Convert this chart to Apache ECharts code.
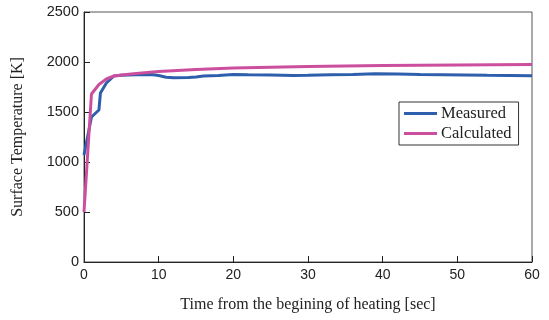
<!DOCTYPE html>
<html>
<head>
<meta charset="utf-8">
<script src="https://cdn.jsdelivr.net/npm/echarts@6/dist/echarts.min.js"></script>
<style>
  html, body { margin: 0; padding: 0; background: #fff; }
  #chart { width: 549px; height: 320px; }
</style>
</head>
<body>
<div id="chart"></div>
<script>
// Surface temperature during heating: measured vs. calculated
const measuredTime = [0, 1, 2, 2.2, 3, 4, 5, 7, 9, 10, 11, 12, 14, 15, 16, 18, 20, 22, 25, 28, 30, 33, 36, 39, 42, 45, 48, 51, 54, 57, 60];
const measuredTemp = [1070, 1450, 1520, 1690, 1790, 1860, 1868, 1872, 1875, 1865, 1848, 1842, 1845, 1850, 1860, 1866, 1874, 1872, 1870, 1866, 1868, 1872, 1876, 1882, 1880, 1874, 1872, 1870, 1867, 1866, 1862];

const calculatedTime = [0, 1, 2, 3, 4, 5, 7, 10, 15, 20, 25, 30, 40, 50, 60];
const calculatedTemp = [500, 1680, 1775, 1830, 1860, 1870, 1885, 1905, 1925, 1940, 1948, 1955, 1964, 1970, 1975];

const xTicks = { min: 0, max: 60, interval: 10 };
const yTicks = { min: 0, max: 2500, interval: 500 };

const pairs = (xs, ys) => xs.map((x, i) => [x, ys[i]]);

const chart = echarts.init(document.getElementById('chart'), null, { renderer: 'canvas' });

const serif = '"Liberation Serif", "DejaVu Serif", serif';
const sans = '"Liberation Sans", Arial, sans-serif';
const plain = v => String(v);

chart.setOption({
  animation: false,
  backgroundColor: '#ffffff',
  grid: {
    left: 84, right: 17, top: 12, bottom: 58,
    show: true, borderColor: '#555', borderWidth: 1
  },
  legend: {
    orient: 'vertical',
    left: 399, top: 102,
    padding: [3, 7, 3, 5],
    itemGap: 3,
    itemWidth: 33, itemHeight: 3,
    icon: 'rect',
    borderColor: '#333', borderWidth: 1,
    backgroundColor: '#fff',
    textStyle: { fontFamily: serif, fontSize: 16.5, color: '#222', padding: [0, 0, 0, -1] },
    data: ['Measured', 'Calculated']
  },
  xAxis: {
    type: 'value',
    min: xTicks.min, max: xTicks.max, interval: xTicks.interval,
    name: 'Time from the begining of heating [sec]',
    nameLocation: 'middle', nameGap: 35,
    nameTextStyle: { fontFamily: serif, fontSize: 16, color: '#222' },
    axisLine: { lineStyle: { color: '#222', width: 1 } },
    axisTick: { inside: true, length: 6, lineStyle: { color: '#222' } },
    axisLabel: { fontFamily: sans, fontSize: 14, color: '#222', margin: 6, formatter: plain },
    splitLine: { show: false }
  },
  yAxis: {
    type: 'value',
    min: yTicks.min, max: yTicks.max, interval: yTicks.interval,
    name: 'Surface Temperature [K]',
    nameLocation: 'middle', nameGap: 58,
    nameTextStyle: { fontFamily: serif, fontSize: 16, color: '#222' },
    axisLine: { show: true, lineStyle: { color: '#222', width: 1 } },
    axisTick: { show: true, inside: true, length: 6, lineStyle: { color: '#222' } },
    axisLabel: { fontFamily: sans, fontSize: 14.5, color: '#222', margin: 5, formatter: plain },
    splitLine: { show: false }
  },
  series: [
    {
      name: 'Measured', type: 'line',
      data: pairs(measuredTime, measuredTemp),
      showSymbol: false, symbol: 'none',
      itemStyle: { color: '#2d5fad' },
      lineStyle: { color: '#2d5fad', width: 3 },
      z: 2
    },
    {
      name: 'Calculated', type: 'line',
      data: pairs(calculatedTime, calculatedTemp),
      showSymbol: false, symbol: 'none',
      itemStyle: { color: '#cc4f9f' },
      lineStyle: { color: '#cc4f9f', width: 3 },
      z: 3
    }
  ]
});
</script>
</body>
</html>
